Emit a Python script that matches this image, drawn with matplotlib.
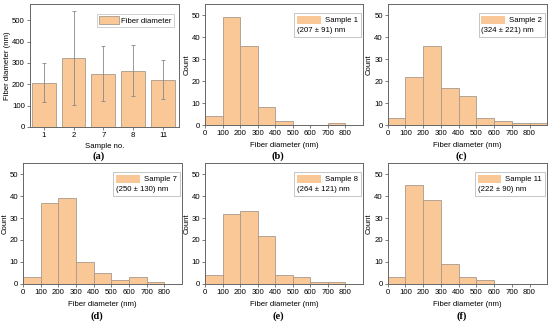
import numpy as np
import matplotlib.pyplot as plt
from matplotlib.patches import Rectangle
from matplotlib.offsetbox import (AnchoredOffsetbox, DrawingArea, HPacker,
                                  TextArea, VPacker)

plt.rcParams["font.family"] = ["Liberation Sans", "DejaVu Sans"]

# mean fiber diameter per sample
samples = ["1", "2", "7", "8", "11"]
mean_d = [207, 324, 250, 264, 222]
std_d = [91, 221, 130, 121, 90]

# histogram counts, bins of 100 nm starting at 0
bin_left = [0, 100, 200, 300, 400, 500, 600, 700, 800]
counts_1 = [4, 49, 36, 8, 2, 0, 0, 1, 0]
counts_2 = [3, 22, 36, 17, 13, 3, 2, 1, 1]
counts_7 = [3, 37, 39, 10, 5, 2, 3, 1, 0]
counts_8 = [4, 32, 33, 22, 4, 3, 1, 1, 0]
counts_11 = [3, 45, 38, 9, 3, 2, 0, 0, 0]

fill = "#FAC797"
edge = "#A89A8C"
frame = "#666666"
FS = 5.6


def style(ax):
    for s in ax.spines.values():
        s.set_color(frame)
        s.set_linewidth(0.7)
    ax.tick_params(labelsize=FS, length=2, width=0.6, color=frame, pad=1.5)


def hist_legend(ax, name, txt):
    da = DrawingArea(17, 6, 0, 0)
    da.add_artist(Rectangle((0, 0), 17, 6, fc=fill, ec="none"))
    row = HPacker(children=[da, TextArea(name, textprops=dict(size=FS))],
                  pad=0, sep=3, align="center")
    box = VPacker(children=[row, TextArea(txt, textprops=dict(size=FS))],
                  pad=0, sep=2, align="left")
    ab = AnchoredOffsetbox(loc="upper right", child=box, pad=0.2,
                           borderpad=0, frameon=True,
                           bbox_to_anchor=(0.985, 0.925),
                           bbox_transform=ax.transAxes)
    ab.patch.set_edgecolor("#BBBBBB")
    ab.patch.set_linewidth(0.6)
    ax.add_artist(ab)


fig = plt.figure(figsize=(5.5, 3.23), dpi=100)

# (a) mean diameters
ax = fig.add_axes([0.054, 0.607, 0.271, 0.380])
x = np.arange(len(samples))
ax.bar(x, mean_d, width=0.8, color=fill, edgecolor=edge, linewidth=0.6,
       label="Fiber diameter")
ax.errorbar(x, mean_d, yerr=std_d, fmt="none", ecolor="#888888",
            elinewidth=0.6, capsize=1.2, capthick=0.6)
ax.set_xticks(x, samples)
ax.set_xlim(-0.47, 4.53)
ax.set_ylim(0, 575)
ax.set_yticks([0, 100, 200, 300, 400, 500])
ax.set_xlabel("Sample no.", fontsize=FS, labelpad=3)
ax.set_ylabel("Fiber diameter (nm)", fontsize=FS, labelpad=1)
leg = ax.legend(loc="upper right", fontsize=FS, handlelength=2.6,
                handleheight=1.1, borderpad=0.3, fancybox=False,
                handletextpad=0.3, borderaxespad=0,
                bbox_to_anchor=(0.97, 0.92))
leg.get_frame().set_edgecolor("#BBBBBB")
leg.get_frame().set_linewidth(0.6)
style(ax)

panels = [
    ("b", counts_1, "Sample 1", "(207 ± 91) nm", [0.373, 0.613, 0.287, 0.374]),
    ("c", counts_2, "Sample 2", "(324 ± 221) nm", [0.705, 0.613, 0.290, 0.374]),
    ("d", counts_7, "Sample 7", "(250 ± 130) nm", [0.042, 0.121, 0.289, 0.374]),
    ("e", counts_8, "Sample 8", "(264 ± 121) nm", [0.373, 0.121, 0.287, 0.374]),
    ("f", counts_11, "Sample 11", "(222 ± 90) nm", [0.705, 0.121, 0.290, 0.374]),
]

axes = {"a": ax}
for key, counts, name, txt, pos in panels:
    ax = fig.add_axes(pos)
    ax.bar(bin_left, counts, width=100, align="edge", color=fill,
           edgecolor=edge, linewidth=0.6)
    ax.set_xlim(0, 900)
    ax.set_ylim(0, 55)
    ax.set_xticks(range(0, 900, 100))
    ax.set_yticks(range(0, 60, 10))
    ax.set_xlabel("Fiber diameter (nm)", fontsize=FS, labelpad=3.5)
    ax.set_ylabel("Count", fontsize=FS, labelpad=1)
    hist_legend(ax, name, txt)
    style(ax)
    axes[key] = ax

# panel letters
for key, ax in axes.items():
    p = ax.get_position()
    yl = 1 - 156 / 323 if p.y0 > 0.5 else 1 - 316 / 323
    fig.text((p.x0 + p.x1) / 2 - 6 / 550, yl, f"({key})", ha="center",
             va="center", fontsize=7.5, family="Liberation Serif",
             weight="bold")

fig.savefig("out.png", dpi=100)
